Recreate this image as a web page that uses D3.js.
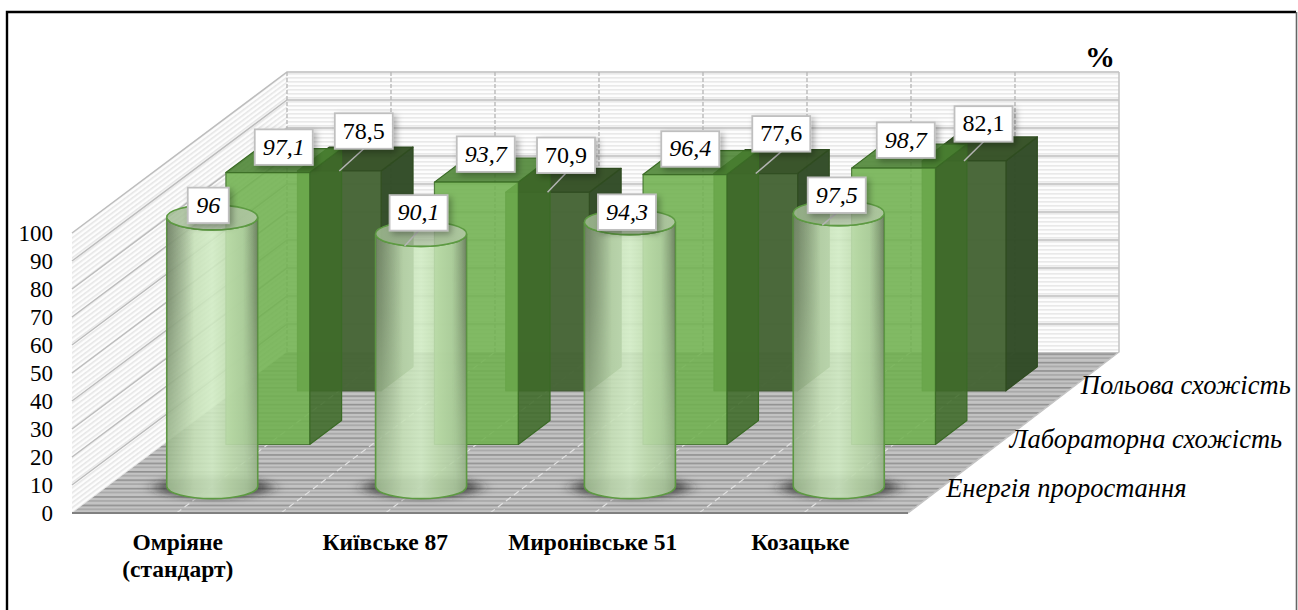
<!DOCTYPE html>
<html lang="uk">
<head>
<meta charset="utf-8">
<style>
  html, body { margin: 0; padding: 0; background: #fff; }
  svg { display: block; }
  text { font-family: "Liberation Serif", "Times New Roman", serif; fill: #000; }
</style>
</head>
<body>
<svg id="chart" width="1298" height="610"></svg>
<script src="https://cdn.jsdelivr.net/npm/d3@7/dist/d3.min.js"></script>
<script>
// Germination indicators of winter wheat varieties, %
const categories = ["Омріяне", "Київське 87", "Миронівське 51", "Козацьке"];
const categoryNotes = ["(стандарт)", "", "", ""];
const seriesNames = ["Енергія проростання", "Лабораторна схожість", "Польова схожість"];
const energy = [96, 90.1, 94.3, 97.5];
const labGermination = [97.1, 93.7, 96.4, 98.7];
const fieldGermination = [78.5, 70.9, 77.6, 82.1];
const valueTicks = [0, 10, 20, 30, 40, 50, 60, 70, 80, 90, 100];

// Hand-placed label offsets from each mark's anchor, one row per series
const energyOffsets = [[-4, -12], [-2.5, -21], [-3, -10], [-2, -18]];
const labOffsets = [[0, -13.5], [-6.5, -16], [-10.5, -13.6], [-3.5, -16]];
const fieldOffsets = [[24.5, -40], [18.5, -37], [25.5, -39.7], [19.5, -37]];
const energyLeaders = [false, true, false, true];
const seriesLabelOffsets = [[3, 11], [-4, 15.5], [-3, 15]];

// Oblique projection of the chart box; the far side is very slightly narrower
const origin = { x: 72, y: 513 };
const depthShift = { x: 215, y: -161 };
const plotWidth = 836;
const farShrink = 4 / 836;

const x = d3.scaleBand().domain(categories).range([0, plotWidth]);
const z = d3.scaleBand().domain(seriesNames).range([0, 1]);
const h = d3.scaleLinear().domain([0, 100]).range([0, 280]);

// Screen position of a point given across, depth (0..1) and value
const px = (a, d) => origin.x + a * (1 - d * farShrink) + d * depthShift.x;
const py = (d, v = 0) => origin.y + d * depthShift.y - h(v);

const svg = d3.select("#chart");
const defs = svg.append("defs");

// Surface textures of walls and floor
const wallPat = defs.append("pattern").attr("id", "wallHatch")
  .attr("patternUnits", "userSpaceOnUse").attr("width", 8).attr("height", 4);
wallPat.append("rect").attr("width", 8).attr("height", 4).attr("fill", "#fdfdfd");
wallPat.append("rect").attr("y", 1).attr("width", 8).attr("height", 1.6).attr("fill", "#e9e9e9");

const sidePat = defs.append("pattern").attr("id", "sideHatch")
  .attr("patternUnits", "userSpaceOnUse").attr("width", 8).attr("height", 4)
  .attr("patternTransform", "rotate(-36.8)");
sidePat.append("rect").attr("width", 8).attr("height", 4).attr("fill", "#fdfdfd");
sidePat.append("rect").attr("y", 1).attr("width", 8).attr("height", 1.6).attr("fill", "#e6e6e6");

const floorPat = defs.append("pattern").attr("id", "floorStripes")
  .attr("patternUnits", "userSpaceOnUse").attr("width", 8).attr("height", 8.4)
  .attr("y", 513 % 8.4);
floorPat.append("rect").attr("width", 8).attr("height", 8.4).attr("fill", "#c3c3c3");
floorPat.append("rect").attr("y", 0).attr("width", 8).attr("height", 1.6).attr("fill", "#8f8f8f");
floorPat.append("rect").attr("y", 4).attr("width", 8).attr("height", 1.4).attr("fill", "#a2a2a2");

// Cylinder body shading, pale across the middle
const bodyGrad = defs.append("linearGradient").attr("id", "cylBody");
[[0, "#a2c093"], [0.12, "#b0cca1"], [0.3, "#c5e0b6"], [0.5, "#d0ebc3"], [0.7, "#bddbac"], [0.88, "#afcda0"], [1, "#98b689"]]
  .forEach(([o, c]) => bodyGrad.append("stop").attr("offset", o).attr("stop-color", c));

// Extra dark rim that fades out toward the foot of the cylinder
const rimGrad = defs.append("linearGradient").attr("id", "cylRim");
[[0, 0.62], [0.1, 0.4], [0.3, 0], [0.84, 0], [0.94, 0.3], [1, 0.62]]
  .forEach(([o, a]) => rimGrad.append("stop").attr("offset", o).attr("stop-color", "#55604c").attr("stop-opacity", a));

const rimFade = defs.append("linearGradient").attr("id", "rimFade").attr("x2", 0).attr("y2", 1);
[[0, "#fff"], [0.3, "#ccc"], [0.75, "#333"], [1, "#000"]]
  .forEach(([o, c]) => rimFade.append("stop").attr("offset", o).attr("stop-color", c));
defs.append("mask").attr("id", "rimMask").attr("maskContentUnits", "objectBoundingBox")
  .append("rect").attr("width", 1).attr("height", 1).attr("fill", "url(#rimFade)");

const capGrad = defs.append("linearGradient").attr("id", "cylCap");
[[0, "#a3bd95"], [0.5, "#a9bf9c"], [1, "#b4c8a8"]]
  .forEach(([o, c]) => capGrad.append("stop").attr("offset", o).attr("stop-color", c));

defs.append("filter").attr("id", "softShadow")
  .attr("x", "-30%").attr("y", "-80%").attr("width", "160%").attr("height", "260%")
  .append("feGaussianBlur").attr("stdDeviation", "8 3");

const labelShadow = defs.append("filter").attr("id", "labelShadow")
  .attr("x", "-30%").attr("y", "-30%").attr("width", "170%").attr("height", "170%");
labelShadow.append("feDropShadow").attr("dx", 3).attr("dy", 3).attr("stdDeviation", 3)
  .attr("flood-color", "#000").attr("flood-opacity", 0.3);

// Outer frame: left, top and right sides only
svg.append("path").attr("d", "M7,610V12H1296").attr("fill", "none").attr("stroke", "#000").attr("stroke-width", 2.4);
svg.append("path").attr("d", "M1296.5,12V610").attr("fill", "none").attr("stroke", "#666").attr("stroke-width", 1.6);

const poly = pts => "M" + pts.map(p => p.join(",")).join("L") + "Z";

// Walls and floor
svg.append("path").attr("fill", "url(#wallHatch)")
  .attr("d", poly([[px(0, 1), py(1, 100)], [px(plotWidth, 1), py(1, 100)], [px(plotWidth, 1), py(1)], [px(0, 1), py(1)]]));
svg.append("path").attr("fill", "url(#sideHatch)")
  .attr("d", poly([[px(0, 0), py(0, 100)], [px(0, 1), py(1, 100)], [px(0, 1), py(1)], [px(0, 0), py(0)]]));
svg.append("path").attr("fill", "url(#floorStripes)")
  .attr("d", poly([[px(0, 0), py(0)], [px(plotWidth, 0), py(0)], [px(plotWidth, 1), py(1)], [px(0, 1), py(1)]]));

// Value gridlines over the left and back walls
const grid = svg.append("g").attr("fill", "none").attr("stroke", "#bdbdbd").attr("stroke-width", 1.5);
valueTicks.filter(v => v > 0).forEach(v => {
  grid.append("path").attr("d", `M${px(0, 0)},${py(0, v)}L${px(0, 1)},${py(1, v)}L${px(plotWidth, 1)},${py(1, v)}`);
});
grid.append("path").attr("d", `M${px(plotWidth, 1)},${py(1, 100)}V${py(1)}L${px(plotWidth, 0)},${py(0)}`).attr("stroke", "#c4c4c4");

// Dashed category gridlines running up the back wall and across the floor
d3.range(0, 8).forEach(k => {
  const a = k * plotWidth / 8;
  svg.append("line").attr("x1", px(a, 1)).attr("x2", px(a, 1)).attr("y1", py(1, 100)).attr("y2", py(1))
    .attr("stroke", "#b9b9b9").attr("stroke-width", 1.4).attr("stroke-dasharray", "4 2");
  if (k > 0) {
    svg.append("line").attr("x1", px(a, 0)).attr("y1", py(0)).attr("x2", px(a, 1)).attr("y2", py(1))
      .attr("stroke", "#e2e2e2").attr("stroke-width", 1.2).attr("stroke-dasharray", "6 4");
  }
});
svg.append("line").attr("x1", px(0, 0)).attr("x2", px(plotWidth, 0)).attr("y1", py(0)).attr("y2", py(0))
  .attr("stroke", "#808080").attr("stroke-width", 2);

// Rectangular columns, farthest row first
const boxFrac = 32 / 215;
const boxWidth = 84;
function drawBoxes(values, name, colors) {
  const d0 = z(name) + z.bandwidth() / 2 - boxFrac / 2;
  const d1 = d0 + boxFrac;
  const g = svg.append("g").attr("stroke", colors.edge).attr("stroke-width", 1.2).attr("stroke-linejoin", "round");
  categories.forEach((c, i) => {
    const cx = x(c) + x.bandwidth() / 2;
    const l = cx - boxWidth / 2, r = cx + boxWidth / 2, v = values[i];
    g.append("path").attr("fill", colors.side).attr("fill-opacity", colors.alpha)
      .attr("d", poly([[px(r, d0), py(d0, v)], [px(r, d1), py(d1, v)], [px(r, d1), py(d1)], [px(r, d0), py(d0)]]));
    g.append("path").attr("fill", colors.top).attr("fill-opacity", colors.alpha)
      .attr("d", poly([[px(l, d0), py(d0, v)], [px(r, d0), py(d0, v)], [px(r, d1), py(d1, v)], [px(l, d1), py(d1, v)]]));
    g.append("path").attr("fill", colors.front).attr("fill-opacity", colors.alpha).attr("stroke-opacity", 0.8)
      .attr("d", poly([[px(l, d0), py(d0, v)], [px(r, d0), py(d0, v)], [px(r, d0), py(d0)], [px(l, d0), py(d0)]]));
  });
}
drawBoxes(fieldGermination, seriesNames[2], { front: "#456435", side: "#304a25", top: "#344f24", edge: "#2f4c20", alpha: 0.97 });
drawBoxes(labGermination, seriesNames[1], { front: "#6fb04f", side: "#3f6b29", top: "#4a8331", edge: "#3a6a25", alpha: 0.88 });

// Cylinders of the front row
const cylRx = 45.5, cylRy = 12.5;
const dFront = z(seriesNames[0]) + z.bandwidth() / 2;
const cylG = svg.append("g");
categories.forEach((c, i) => {
  const cx = px(x(c) + x.bandwidth() / 2, dFront);
  const base = py(dFront), top = py(dFront, energy[i]);
  const body = `M${cx - cylRx},${top}A${cylRx},${cylRy} 0 0 0 ${cx + cylRx},${top}L${cx + cylRx},${base}A${cylRx},${cylRy} 0 0 1 ${cx - cylRx},${base}Z`;
  cylG.append("ellipse").attr("cx", cx + 1).attr("cy", base + 1).attr("rx", cylRx + 13).attr("ry", 11)
    .attr("fill", "#222").attr("fill-opacity", 0.68).attr("filter", "url(#softShadow)");
  cylG.append("path").attr("fill", "url(#cylBody)").attr("fill-opacity", 0.88)
    .attr("stroke", "#5d9a42").attr("stroke-width", 1.6).attr("d", body);
  cylG.append("path").attr("fill", "url(#cylRim)").attr("mask", "url(#rimMask)").attr("d", body);
  cylG.append("ellipse").attr("cx", cx).attr("cy", top).attr("rx", cylRx).attr("ry", cylRy)
    .attr("fill", "url(#cylCap)").attr("fill-opacity", 0.85)
    .attr("stroke", "#5d9a42").attr("stroke-width", 1.6);
});

// Value labels with their leader lines
const labelG = svg.append("g");
const fmt = v => String(v).replace(".", ",");
function addLabel(value, ax, ay, off, italic, leaderEnd) {
  const text = fmt(value);
  const w = text.length > 2 ? 58 : 41, lh = 35.5;
  const cx = ax + off[0], cy = ay + off[1];
  if (leaderEnd) {
    labelG.append("line").attr("x1", cx).attr("y1", cy + lh / 2).attr("x2", leaderEnd[0]).attr("y2", leaderEnd[1])
      .attr("stroke", "#b5b5b5").attr("stroke-width", 1.5);
  }
  labelG.append("rect").attr("x", cx - w / 2).attr("y", cy - lh / 2).attr("width", w).attr("height", lh)
    .attr("fill", "#fff").attr("stroke", "#bfbfbf").attr("stroke-width", 1.8).attr("filter", "url(#labelShadow)");
  labelG.append("text").attr("x", cx).attr("y", cy + 7.5).attr("text-anchor", "middle")
    .attr("font-size", 24).attr("font-style", italic ? "italic" : "normal").text(text);
}
const dLab = z(seriesNames[1]) + z.bandwidth() / 2;
const dField = z(seriesNames[2]) + z.bandwidth() / 2;
categories.forEach((c, i) => {
  const mid = x(c) + x.bandwidth() / 2;
  const cxE = px(mid, dFront), yE = py(dFront, energy[i]);
  addLabel(energy[i], cxE, yE, energyOffsets[i], true, energyLeaders[i] ? [cxE - 16.5, yE + 12] : null);
  addLabel(labGermination[i], px(mid, dLab), py(dLab, labGermination[i]), labOffsets[i], true, null);
  const fx = px(mid, dField - boxFrac / 2), fy = py(dField - boxFrac / 2, fieldGermination[i]);
  addLabel(fieldGermination[i], fx, fy, fieldOffsets[i], false, [fx, fy]);
});

// Value axis
const yAxis = d3.scaleLinear().domain([0, 100]).range([origin.y, origin.y - 280]);
const axisG = svg.append("g").attr("transform", `translate(${origin.x},0)`)
  .call(d3.axisLeft(yAxis).tickValues(valueTicks).tickSize(0).tickPadding(19));
axisG.select(".domain").remove();
axisG.selectAll("text").attr("font-size", 23).attr("font-family", '"Liberation Serif", serif').attr("fill", "#000");

// Category labels under the floor
const catLabelX = d3.scaleBand().domain(categories).range([74, 904]);
const catG = svg.append("g").attr("text-anchor", "middle").attr("font-weight", "bold").attr("font-size", 23.5);
categories.forEach((c, i) => {
  const cx = catLabelX(c) + catLabelX.bandwidth() / 2;
  catG.append("text").attr("x", cx).attr("y", 550).text(c);
  if (categoryNotes[i]) catG.append("text").attr("x", cx).attr("y", 577).text(categoryNotes[i]);
});

// Series labels beside the right floor edge
const serG = svg.append("g").attr("font-style", "italic").attr("font-size", 26.5);
seriesNames.forEach((s, i) => {
  const d = z(s) + z.bandwidth() / 2;
  serG.append("text").attr("x", px(plotWidth, d) + seriesLabelOffsets[i][0])
    .attr("y", py(d) + seriesLabelOffsets[i][1]).text(s);
});

// Unit mark
svg.append("text").attr("x", 1115).attr("y", 67).attr("text-anchor", "end")
  .attr("font-weight", "bold").attr("font-size", 30).text("%");
</script>
</body>
</html>
